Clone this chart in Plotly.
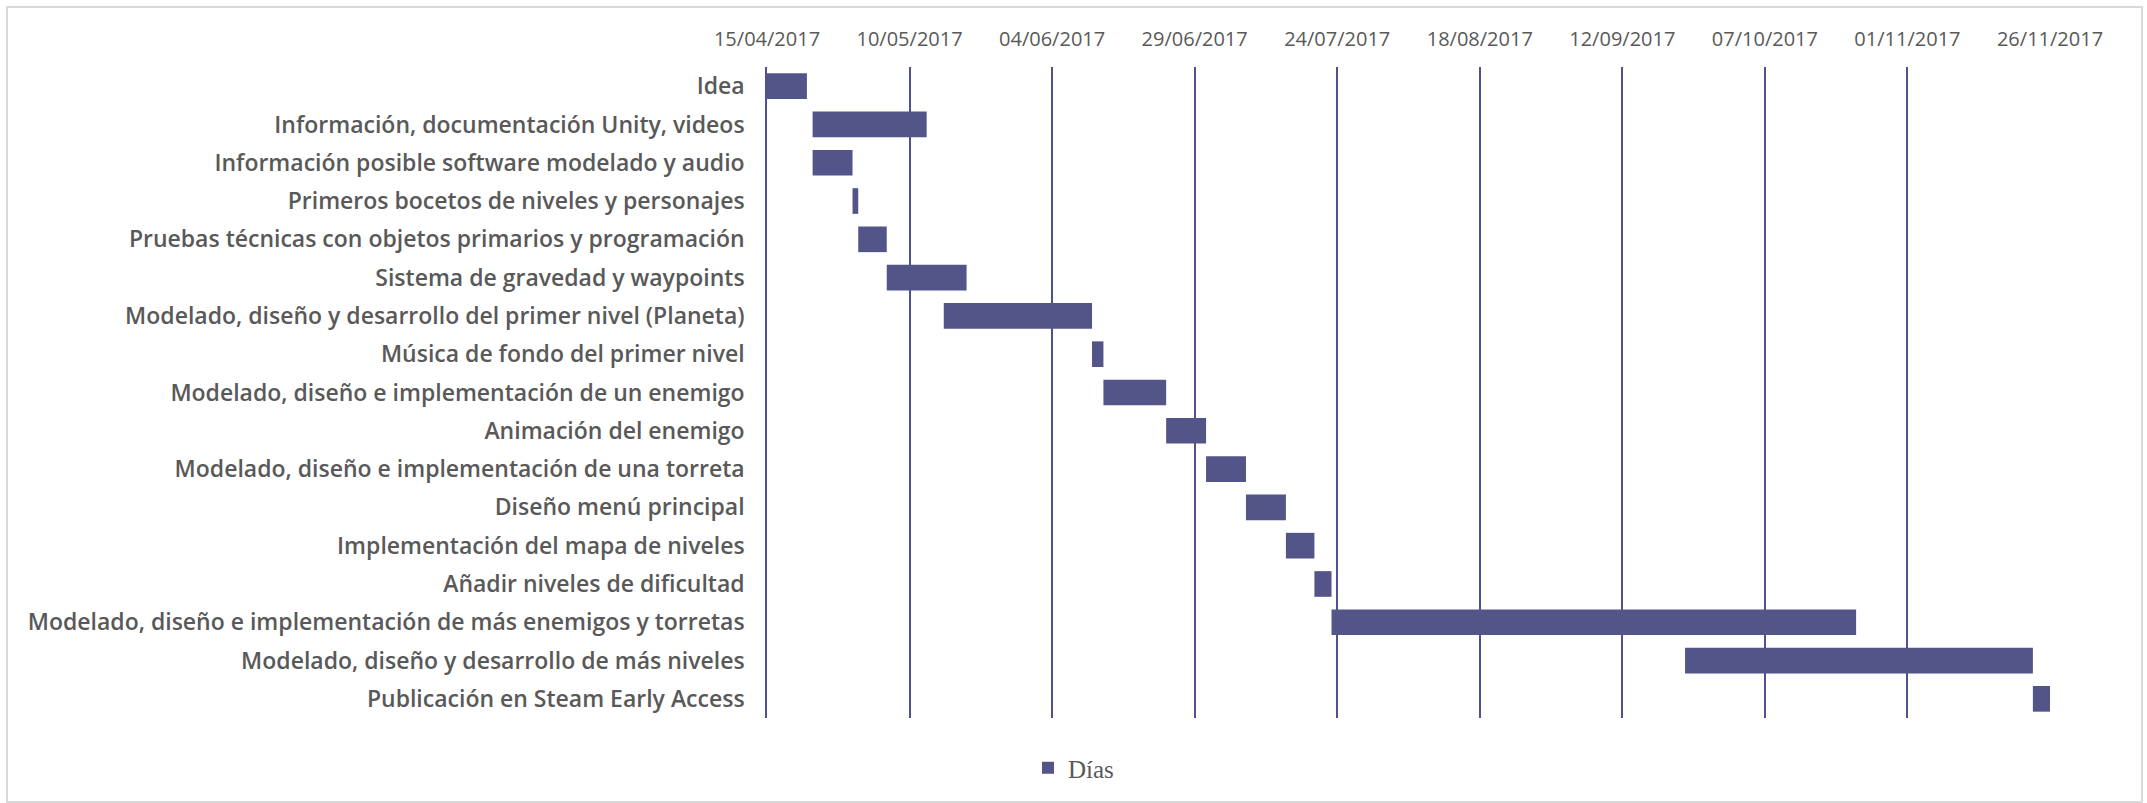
import datetime as dt
import plotly.graph_objects as go

# Project tasks (top to bottom), start dates and durations in days
tasks = [
    "Idea",
    "Información, documentación Unity, videos",
    "Información posible software modelado y audio",
    "Primeros bocetos de niveles y personajes",
    "Pruebas técnicas con objetos primarios y programación",
    "Sistema de gravedad y waypoints",
    "Modelado, diseño y desarrollo del primer nivel (Planeta)",
    "Música de fondo del primer nivel",
    "Modelado, diseño e implementación de un enemigo",
    "Animación del enemigo",
    "Modelado, diseño e implementación de una torreta",
    "Diseño menú principal",
    "Implementación del mapa de niveles",
    "Añadir niveles de dificultad",
    "Modelado, diseño e implementación de más enemigos y torretas",
    "Modelado, diseño y desarrollo de más niveles",
    "Publicación en Steam Early Access",
]
start_dates = [
    "15/04/2017", "23/04/2017", "23/04/2017", "30/04/2017", "01/05/2017",
    "06/05/2017", "16/05/2017", "11/06/2017", "13/06/2017", "24/06/2017",
    "01/07/2017", "08/07/2017", "15/07/2017", "20/07/2017", "23/07/2017",
    "23/09/2017", "23/11/2017",
]
dias = [7, 20, 7, 1, 5, 14, 26, 2, 11, 7, 7, 7, 5, 3, 92, 61, 3]

tick_labels = [
    "15/04/2017", "10/05/2017", "04/06/2017", "29/06/2017", "24/07/2017",
    "18/08/2017", "12/09/2017", "07/10/2017", "01/11/2017", "26/11/2017",
]


def iso(d):
    return dt.datetime.strptime(d, "%d/%m/%Y").strftime("%Y-%m-%d")


DAY_MS = 24 * 60 * 60 * 1000
BAR = "#535488"
GRID = "#4f5190"
TEXT = "#595959"

W, H = 2147, 803
L, R, T, B = 767, 2050, 67, 718

fig = go.Figure(
    go.Bar(
        y=tasks,
        x=[d * DAY_MS for d in dias],
        base=[iso(s) for s in start_dates],
        orientation="h",
        name="Días",
        marker=dict(color=BAR, line=dict(width=0)),
        showlegend=True,
    )
)

fig.update_layout(
    width=W,
    height=H,
    margin=dict(l=L, r=W - R, t=T, b=H - B, autoexpand=False),
    paper_bgcolor="white",
    plot_bgcolor="white",
    bargap=0.33,
    font=dict(family="Open Sans", color=TEXT),
    legend=dict(
        orientation="h",
        xref="container",
        yref="container",
        x=0.5,
        y=(H - 768) / H,
        xanchor="center",
        yanchor="middle",
        font=dict(family="Liberation Serif", size=25, color=TEXT),
        itemwidth=30,
    ),
    xaxis=dict(
        type="date",
        side="top",
        range=[iso(tick_labels[0]), iso(tick_labels[-1])],
        tickvals=[iso(t) for t in tick_labels],
        ticktext=tick_labels,
        showgrid=True,
        gridcolor=GRID,
        gridwidth=1.6,
        zeroline=False,
        showline=False,
        ticks="",
        ticklabelstandoff=16,
        tickfont=dict(family="Open Sans", size=20, color=TEXT),
    ),
    yaxis=dict(
        autorange="reversed",
        showline=True,
        linecolor=GRID,
        linewidth=1.6,
        ticks="",
        ticklabelstandoff=16,
        tickfont=dict(family="Open Sans", size=23, color=TEXT, weight=600),
        showgrid=False,
    ),
    shapes=[
        dict(
            type="rect",
            xref="paper",
            yref="paper",
            x0=(7 - L) / (R - L),
            x1=(2142 - L) / (R - L),
            y0=(B - 802) / (B - T),
            y1=(B - 7) / (B - T),
            line=dict(color="#d9d9d9", width=2),
            fillcolor="rgba(0,0,0,0)",
            layer="below",
        )
    ],
)

fig.write_html("out.html")
